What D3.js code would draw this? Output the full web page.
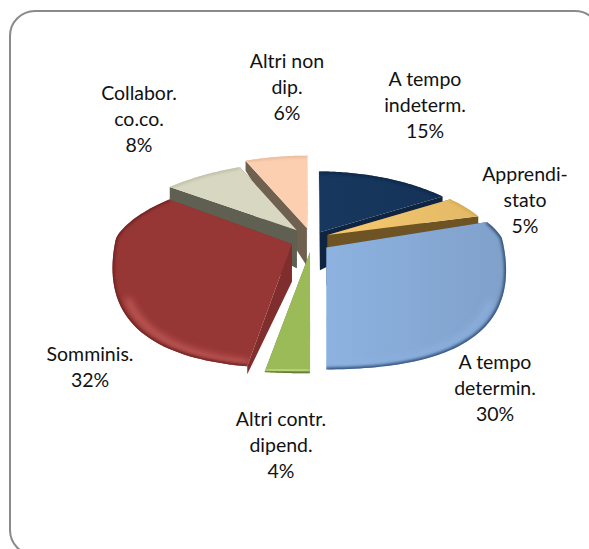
<!DOCTYPE html>
<html lang="en">
<head>
  <meta charset="UTF-8">
  <title>Pie</title>
  <script src="https://d3js.org/d3.v7.min.js"></script>
  <style>
    body { margin: 0; background: #fff; }
    text { font-family: Lato, sans-serif; font-size: 19.5px; fill: #111; text-anchor: middle; }
  </style>
</head>
<body>
  <script>
    const width = 589;
    const height = 549;

    // Data
    const names = [
      ["A tempo", "indeterm."],
      ["Apprendi-", "stato"],
      ["A tempo", "determin."],
      ["Altri contr.", "dipend."],
      ["Somminis."],
      ["Collabor.", "co.co."],
      ["Altri non", "dip."]
    ];
    const shares = [15, 5, 30, 4, 32, 8, 6];

    // Slice styling, same order as the data
    const tops = ["#17375e", "#f7c96f", "#8db2e0", "#9bbb59", "#973735", "#d8d8c2", "#fbcfb0"];
    const rims = ["#0f2747", "#d9a850", "#2f4d78", "#55702a", "#6e2423", "#c0c0a8", "#e8bc9c"];
    const glows = ["#17375e", "#ffdc90", "#8db2e0", "#cfe694", "#c9625f", "#d8d8c2", "#fbcfb0"];
    const walls = ["#0e2440", "#6e5424", "#3d5a85", "#5f7a30", "#7f2e2d", "#5f5f52", "#70604f"];
    const explode = [0.1, 0.1, 0.1, 0.09, 0.12, 0.15, 0.16];
    const radius = [0.95, 0.95, 1, 1.06, 1, 1.06, 1.13];
    const rimDrop = [14, 10, 0, 0, 8, 18, 10];
    const labelX = [425, 525, 495, 281, 90, 139, 287];
    const labelY = [86, 181, 369, 426, 361, 100, 68];
    const drawOrder = [6, 5, 0, 1, 3, 4, 2];

    const cx = 312, cy = 238;
    const scaleX = 176, backY = 64, frontY = 128;
    const lineGap = 26;

    // View of a point on the pie plane: shallow at the back, bulging at the front
    const project = ([u, v]) => [
      cx + scaleX * u / (1 - 0.15 * v * (v < 0 ? 1 : 1 - 0.9 * v * v)),
      cy + (v < 0 ? backY * v : frontY * v * (1.25 - 0.25 * v * v))
    ];

    const svg = d3.select("body").append("svg")
      .attr("width", width)
      .attr("height", height);

    // Frame
    svg.append("rect")
      .attr("x", 10).attr("y", 11)
      .attr("width", 590).attr("height", 544)
      .attr("rx", 25)
      .attr("fill", "#fff")
      .attr("stroke", "#8a8a8a")
      .attr("stroke-width", 2);

    const slices = d3.pie().sort(null)(shares);
    const line = d3.line();
    const defs = svg.append("defs");

    [["soft", 3], ["edge", 1.5]].forEach(([id, blur]) => {
      defs.append("filter").attr("id", id)
        .attr("x", "-20%").attr("y", "-20%").attr("width", "140%").attr("height", "140%")
        .append("feGaussianBlur").attr("stdDeviation", blur);
    });

    slices.forEach((s, i) => {
      const mid = (s.startAngle + s.endAngle) / 2;
      s.ox = explode[i] * Math.sin(mid);
      s.oy = -explode[i] * Math.cos(mid);
      s.r = radius[i];
      s.apex = project([s.ox, s.oy]);
      s.rimAt = (a, k = 1) => project([s.ox + k * s.r * Math.sin(a), s.oy - k * s.r * Math.cos(a)]);
      s.angles = d3.range(0, 61).map(k => s.startAngle + (s.endAngle - s.startAngle) * k / 60);

      // Slight falloff to the right, as the light comes from the left
      const g = defs.append("linearGradient")
        .attr("id", "top" + i)
        .attr("gradientUnits", "userSpaceOnUse")
        .attr("x1", 110).attr("y1", 0).attr("x2", 510).attr("y2", 0);
      g.append("stop").attr("offset", 0).attr("stop-color", tops[i]);
      g.append("stop").attr("offset", 0.55).attr("stop-color", tops[i]);
      g.append("stop").attr("offset", 1).attr("stop-color", d3.color(tops[i]).darker(0.3));
    });

    // Cut face of a slice: tall at the apex, thin at the rim
    function cutFace(s, a, drop) {
      const top = s.rimAt(a);
      return line([
        s.apex,
        top,
        [top[0], top[1] + drop],
        [s.apex[0], s.apex[1] + 38]
      ]) + "Z";
    }

    drawOrder.forEach(i => {
      const s = slices[i];
      const g = svg.append("g");

      g.selectAll("path.wall")
        .data([s.startAngle, s.endAngle])
        .join("path")
        .attr("class", "wall")
        .attr("d", a => cutFace(s, a, rimDrop[i]))
        .attr("fill", walls[i]);

      const outline = line([s.apex, ...s.angles.map(a => s.rimAt(a))]) + "Z";
      defs.append("clipPath").attr("id", "clip" + i)
        .append("path").attr("d", outline);

      g.append("path").attr("d", outline).attr("fill", `url(#top${i})`);

      // Bevel: a light band at the front, just inside a soft dark edge
      const bevel = g.append("g").attr("clip-path", `url(#clip${i})`);
      const front = s.angles.filter(a => Math.cos(a) < -0.35);
      if (front.length > 1) {
        bevel.append("path")
          .attr("d", line(front.map(a => s.rimAt(a, 0.95))))
          .attr("fill", "none")
          .attr("stroke", glows[i])
          .attr("stroke-width", 7)
          .attr("stroke-opacity", 0.75)
          .attr("filter", "url(#soft)");
      }
      bevel.append("path")
        .attr("d", line(s.angles.map(a => s.rimAt(a))))
        .attr("fill", "none")
        .attr("stroke", rims[i])
        .attr("stroke-width", 4)
        .attr("filter", "url(#edge)");
    });

    // Labels
    names.forEach((lines, i) => {
      const t = svg.append("text").attr("y", labelY[i]);
      [...lines, shares[i] + "%"].forEach((txt, k) => {
        t.append("tspan")
          .attr("x", labelX[i])
          .attr("y", labelY[i] + k * lineGap)
          .text(txt);
      });
    });
  </script>
</body>
</html>
